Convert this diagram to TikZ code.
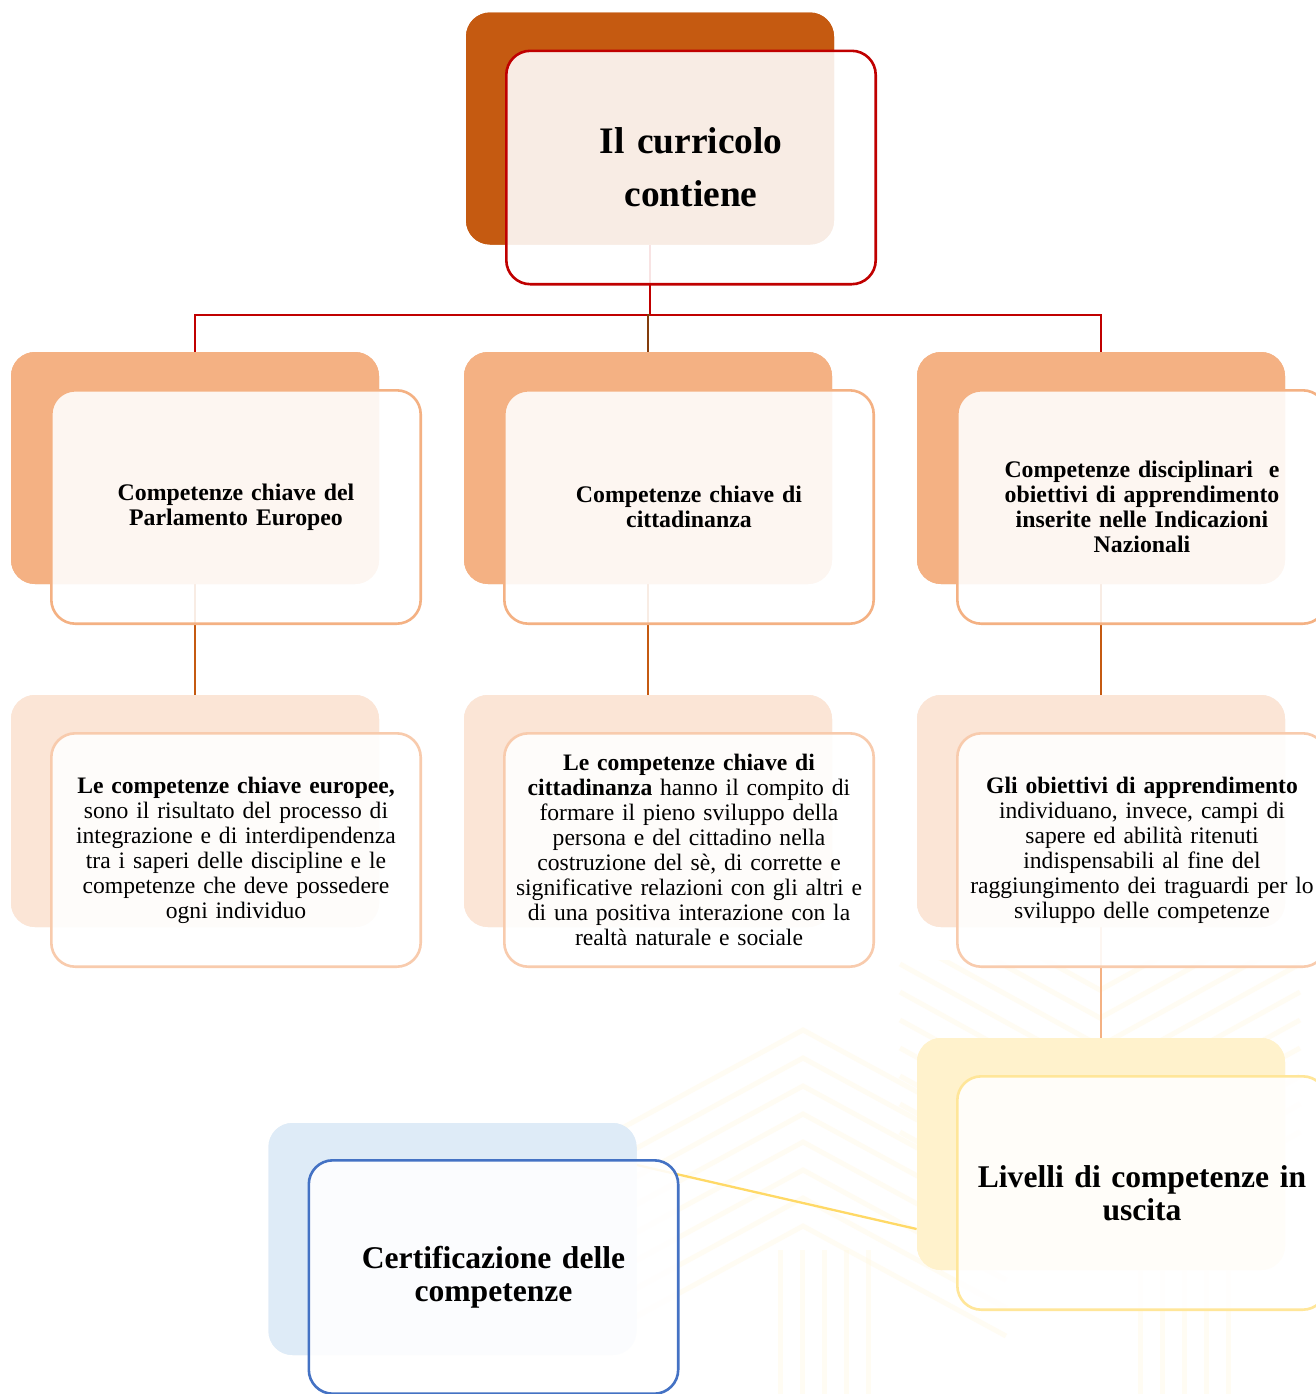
\documentclass[tikz,border=0pt]{standalone}
\usepackage{fontspec}
\setmainfont{Liberation Serif}
\usetikzlibrary{calc}
\definecolor{cDark}{HTML}{C55A11}
\definecolor{cRed}{HTML}{C00000}
\definecolor{cL2}{HTML}{F4B183}
\definecolor{cL3}{HTML}{FBE5D6}
\definecolor{cL3s}{HTML}{F8CBAD}
\definecolor{cL4}{HTML}{FFF2CC}
\definecolor{cL4s}{HTML}{FFE699}
\definecolor{cBlue}{HTML}{DEEBF7}
\definecolor{cBlueS}{HTML}{4472C4}
\definecolor{cYel}{HTML}{FFD966}
\definecolor{cBrown}{HTML}{843C0C}
\definecolor{cPat}{HTML}{FFF6DA}
\begin{document}
\begin{tikzpicture}[x=0.5pt,y=-0.5pt,
  back/.style={rounded corners=12pt, minimum width=184pt, minimum height=116pt, inner sep=0pt},
  front/.style={rounded corners=12pt, minimum width=184.7pt, minimum height=116.7pt, draw, line width=1.3pt,
     fill=white, fill opacity=0.89, text opacity=1, align=center, text width=182pt, inner sep=0pt},
  hdr/.style={font=\fontsize{11.9pt}{12.5pt}\selectfont\bfseries},
  body/.style={font=\fontsize{11.8pt}{12.5pt}\selectfont},
  big/.style={font=\fontsize{15.8pt}{16.5pt}\selectfont\bfseries},
  pat/.style={draw=cPat, line width=2.5pt, opacity=0.3},
  conn/.style={line width=1.15pt}
]
\useasboundingbox[fill=white] (0,0) rectangle (1316,1394);

% faint background pattern
\begin{scope}
\clip (480,960) rectangle (1316,1394);
\foreach \k in {0,...,7} {
  \draw[pat] (600,1140+\k*28) -- (803,1030+\k*28) -- (1006,1140+\k*28);
}
\foreach \k in {0,...,9} {
  \draw[pat] (900,880+\k*28) -- (1100,990+\k*28) -- (1300,880+\k*28);
}
\foreach \k in {0,...,4} {
  \draw[pat] (780+\k*22,1250) -- (780+\k*22,1394);
  \draw[pat] (1140+\k*22,1250) -- (1140+\k*22,1394);
}
\end{scope}

% back boxes
\node[back, fill=cDark] (tB) at (650,128.5) {};
\node[back, fill=cL2] (aB) at (195,468) {};
\node[back, fill=cL2] (bB) at (648,468) {};
\node[back, fill=cL2] (cB) at (1101,468) {};
\node[back, fill=cL3] (dB) at (195,811) {};
\node[back, fill=cL3] (eB) at (648,811) {};
\node[back, fill=cL3] (fB) at (1101,811) {};
\node[back, fill=cL4] (gB) at (1101,1154) {};
\node[back, fill=cBlue] (hB) at (452.5,1239) {};

% connectors
\coordinate (bus) at (650,315);
\draw[conn, cRed] (tB.south) -- (bus);
\draw[conn, cRed] (bus) -| (aB.north);
\draw[conn, cRed] (bus) -| (cB.north);
\draw[conn, cBrown] (bus) -| (bB.north);
\draw[conn, cDark] (aB.south) -- (dB.north);
\draw[conn, cDark] (bB.south) -- (eB.north);
\draw[conn, cDark] (cB.south) -- (fB.north);
\draw[conn, cL2] (fB.south) -- (gB.north);
\draw[conn, cYel] ([yshift=37pt]hB.east) -- ([yshift=-37.5pt]gB.west);

% redraw back boxes above connectors
\node[back, fill=cDark] at (tB) {};
\node[back, fill=cL2] at (aB) {};
\node[back, fill=cL2] at (bB) {};
\node[back, fill=cL2] at (cB) {};
\node[back, fill=cL3] at (dB) {};
\node[back, fill=cL3] at (eB) {};
\node[back, fill=cL3] at (fB) {};
\node[back, fill=cL4] at (gB) {};
\node[back, fill=cBlue] at (hB) {};

% front boxes
\node[front, draw=cRed, font=\fontsize{18.7pt}{26.5pt}\selectfont\bfseries] (tF) at (691,167.5) {Il curricolo\\contiene};
\node[front, draw=cL2, hdr] (aF) at (236,507) {Competenze chiave del\\Parlamento Europeo};
\node[front, draw=cL2, hdr] (bF) at (689,507) {Competenze chiave di\\cittadinanza};
\node[front, draw=cL2, hdr] (cF) at (1142,507) {Competenze disciplinari~ e\\obiettivi di apprendimento\\inserite nelle Indicazioni\\Nazionali};
\node[front, draw=cL3s, body] (dF) at (236,850) {\textbf{Le competenze chiave europee,}\\sono il risultato del processo di\\integrazione e di interdipendenza\\tra i saperi delle discipline e le\\competenze che deve possedere\\ogni individuo};
\node[front, draw=cL3s, body] (eF) at (689,850) {\textbf{Le competenze chiave di}\\\textbf{cittadinanza} hanno il compito di\\formare il pieno sviluppo della\\persona e del cittadino nella\\costruzione del sè, di corrette e\\significative relazioni con gli altri e\\di una positiva interazione con la\\realtà naturale e sociale};
\node[front, draw=cL3s, body] (fF) at (1142,850) {\textbf{Gli obiettivi di apprendimento}\\individuano, invece, campi di\\sapere ed abilità ritenuti\\indispensabili al fine del\\raggiungimento dei traguardi per lo\\sviluppo delle competenze};
\node[front, draw=cL4s, big] (gF) at (1142,1193) {Livelli di competenze in\\uscita};
\node[front, draw=cBlueS, big] (hF) at (493.5,1277) {Certificazione delle\\competenze};
\end{tikzpicture}
\end{document}
